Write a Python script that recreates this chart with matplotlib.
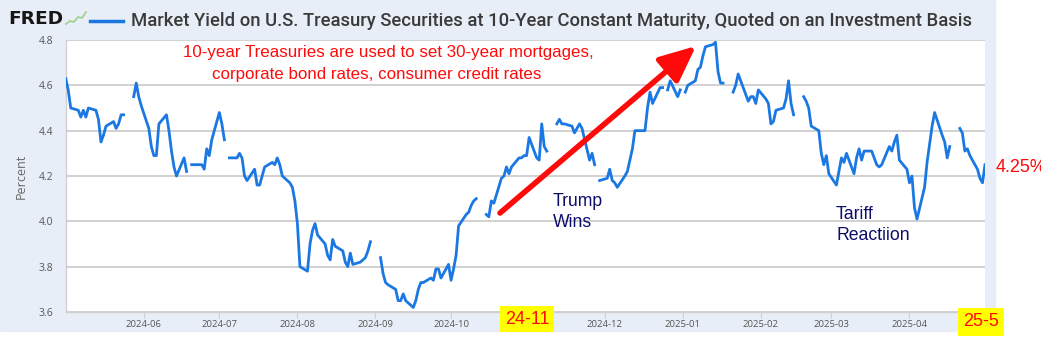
import numpy as np
import pandas as pd
import matplotlib
matplotlib.use('Agg')
import matplotlib.pyplot as plt
import matplotlib.dates as mdates
from matplotlib.patches import Rectangle
from matplotlib.lines import Line2D

nan = np.nan

# 10-year treasury yield, daily (business days), nan = market holiday
may24 = [4.63, 4.58, 4.50, 4.49, 4.46, 4.49, 4.46, 4.50, 4.49, 4.45, 4.35, 4.38,
         4.42, 4.44, 4.41, 4.43, 4.47, 4.47, nan, 4.55, 4.61, 4.55, 4.51]
jun24 = [4.41, 4.33, 4.29, 4.29, 4.43, 4.47, 4.40, 4.31, 4.24, 4.20, 4.28, 4.22,
         nan, 4.25, 4.25, 4.25, 4.23, 4.32, 4.29, 4.36]
jul24 = [4.48, 4.43, 4.36, nan, 4.28, 4.28, 4.30, 4.28, 4.20, 4.18, 4.23, 4.16,
         4.16, 4.20, 4.24, 4.26, 4.25, 4.28, 4.25, 4.20, 4.17, 4.15, 4.09]
aug24 = [3.99, 3.80, 3.78, 3.90, 3.96, 3.99, 3.94, 3.90, 3.85, 3.83, 3.92, 3.89,
         3.87, 3.82, 3.80, 3.86, 3.81, 3.82, 3.83, 3.84, 3.87, 3.91]
sep24 = [nan, 3.84, 3.77, 3.73, 3.72, 3.70, 3.65, 3.65, 3.68, 3.65, 3.62, 3.65,
         3.70, 3.73, 3.73, 3.75, 3.74, 3.79, 3.79, 3.75, 3.81]
oct24 = [3.74, 3.79, 3.85, 3.98, 4.03, 4.04, 4.07, 4.09, 4.10, nan, 4.03, 4.02,
         4.09, 4.08, 4.19, 4.20, 4.24, 4.21, 4.24, 4.28, 4.28, 4.29, 4.29]
nov24 = [4.37, 4.28, 4.27, 4.43, 4.33, 4.31, nan, 4.43, 4.45, 4.43, 4.43, 4.42,
         4.39, 4.41, 4.43, 4.41, 4.27, 4.30, 4.25, nan, 4.18]
dec24 = [4.19, 4.23, 4.18, 4.17, 4.15, 4.20, 4.22, 4.27, 4.32, 4.40, 4.40, 4.40,
         4.50, 4.57, 4.52, 4.59, 4.59, nan, 4.58, 4.62, 4.55, 4.58]
jan25 = [nan, 4.57, 4.60, 4.62, 4.67, 4.68, 4.73, 4.77, 4.78, 4.79, 4.66, 4.61,
         4.61, nan, 4.57, 4.60, 4.65, 4.62, 4.53, 4.55, 4.55, 4.52, 4.58]
feb25 = [4.54, 4.52, 4.43, 4.44, 4.49, 4.50, 4.54, 4.62, 4.52, 4.47, nan, 4.55,
         4.53, 4.50, 4.42, 4.40, 4.30, 4.25, 4.29, 4.21]
mar25 = [4.16, 4.22, 4.28, 4.26, 4.30, 4.21, 4.28, 4.32, 4.27, 4.31, 4.31, 4.28,
         4.25, 4.24, 4.25, 4.33, 4.31, 4.35, 4.38, 4.27, 4.23]
apr25 = [4.17, 4.20, 4.06, 4.01, 4.15, 4.26, 4.34, 4.42, 4.48, 4.38, 4.35, 4.28,
         4.33, nan, 4.41, 4.39, 4.31, 4.32, 4.29, 4.23, 4.19, 4.17]
may25 = [4.25]

yields = (may24 + jun24 + jul24 + aug24 + sep24 + oct24 + nov24 + dec24
          + jan25 + feb25 + mar25 + apr25 + may25)
dates = pd.bdate_range('2024-05-01', '2025-05-01')
assert len(dates) == len(yields), (len(dates), len(yields))
s = pd.Series(yields, index=dates)

month_ticks = pd.date_range('2024-06-01', '2025-04-01', freq='MS')

W, H = 1041, 340
fig = plt.figure(figsize=(W / 100, H / 100), dpi=100)
fig.patch.set_facecolor('white')

def px(x, y):
    # pixel position from top-left -> figure fraction
    return x / W, 1 - y / H

RED = '#ff0a0a'
NAVY = '#0c0c6a'
BLUE = '#1b78e2'

# FRED panel background
fig.patches.append(Rectangle((0, 1 - 331 / H), 995 / W, 331 / H,
                             transform=fig.transFigure, color='#e8eef7', zorder=-5))

# plot area
l, b = px(65.7, 312)
r, t = px(985, 40)
ax = fig.add_axes([l, b, r - l, t - b])
ax.set_facecolor('white')
ax.plot(s.index, s.values, color=BLUE, lw=2.0, zorder=3)

ax.set_xlim(pd.Timestamp('2024-05-01'), pd.Timestamp('2025-05-01'))
ax.set_ylim(3.6, 4.8)
ax.set_yticks(np.arange(3.6, 4.81, 0.2))
ax.yaxis.set_major_formatter(plt.FuncFormatter(lambda v, p: f'{v:.1f}'))
ax.set_xticks(month_ticks)
ax.xaxis.set_major_formatter(mdates.DateFormatter('%Y-%m'))
ax.grid(axis='y', color='#c9c9c9', lw=1.2)
ax.set_axisbelow(True)
for sp in ['top', 'right']:
    ax.spines[sp].set_visible(False)
for sp in ['left', 'bottom']:
    ax.spines[sp].set_color('#cfcfcf')
    ax.spines[sp].set_linewidth(1.0)
ax.tick_params(axis='y', length=0, pad=9, labelsize=7.5, labelcolor='#555555')
ax.tick_params(axis='x', length=4, color='#cfcfcf', pad=2, labelsize=6.8,
               labelcolor='#555555')
for lab in ax.get_xticklabels() + ax.get_yticklabels():
    lab.set_family('Open Sans')
ax.set_ylabel('Percent', fontsize=9, color='#666666', family='Open Sans', labelpad=8)

# header: logo, legend key and series title
fig.text(*px(8, 19), 'FRED', fontsize=13.3, fontweight='heavy', color='#161616',
         family='DejaVu Sans', va='center', ha='left')
icon_x = [66, 70, 74, 78, 82, 86]
icon_y = [24, 21, 22, 17, 18, 12]
fig.add_artist(Line2D([x / W for x in icon_x], [1 - y / H for y in icon_y],
                      color='#9fd08a', lw=1.2, transform=fig.transFigure))
fig.add_artist(Line2D([90 / W, 123 / W], [1 - 21 / H] * 2, color=BLUE, lw=2.5,
                      transform=fig.transFigure))
fig.text(*px(131, 21), 'Market Yield on U.S. Treasury Securities at 10-Year Constant '
         'Maturity, Quoted on an Investment Basis', fontsize=13.3, color='#3a3a3a',
         family='Roboto', fontweight='medium', va='center', ha='left')

# commentary
fig.text(*px(183, 52), '10-year Treasuries are used to set 30-year mortgages,',
         fontsize=12.2, color=RED, family='Liberation Sans', va='center')
fig.text(*px(212, 74), 'corporate bond rates, consumer credit rates',
         fontsize=12.2, color=RED, family='Liberation Sans', va='center')
fig.text(*px(553, 212), 'Trump\nWins', fontsize=12.7, color=NAVY,
         family='Liberation Sans', va='center', linespacing=1.25)
fig.text(*px(836, 225), 'Tariff\nReactiion', fontsize=12.7, color=NAVY,
         family='Liberation Sans', va='center', linespacing=1.25)

ax.annotate('', xy=(696, H - 46), xytext=(500, H - 213), xycoords='figure pixels',
            textcoords='figure pixels',
            arrowprops=dict(arrowstyle='-|>,head_length=1.0,head_width=0.45',
                            mutation_scale=22, lw=4, color=RED,
                            shrinkA=0, shrinkB=0))

fig.text(*px(996, 168), f'{yields[-1]:.2f}%', fontsize=13, color=RED,
         family='Liberation Sans', va='center')

# highlighted month labels
fig.text(*px(527, 319), '24-11', fontsize=13, color=RED, family='Liberation Sans',
         ha='center', va='center', zorder=10,
         bbox=dict(boxstyle='square,pad=0.25', fc='#ffff00', ec='none'))
fig.text(*px(981, 322), '25-5', fontsize=13, color=RED, family='Liberation Sans',
         ha='center', va='center', zorder=10,
         bbox=dict(boxstyle='square,pad=0.3', fc='#ffff00', ec='none'))

fig.savefig('out.png', dpi=100, facecolor=fig.get_facecolor())
